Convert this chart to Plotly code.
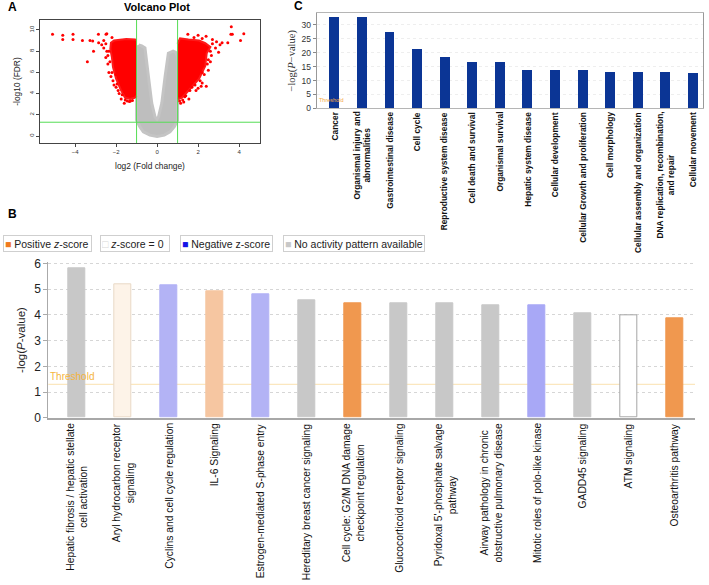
import plotly.graph_objects as go

W, H = 709, 585

# ---------------- Panel A: volcano plot ----------------
fc_cutoff = 1.0     # |log2 fold change| cut-off
fdr_cutoff = 1.3    # -log10(FDR) cut-off
a_xticks = [-4, -2, 0, 2, 4]
a_yticks = [0, 2, 4, 6, 8, 10]

# outline of the dense grey (non-significant) cloud
grey_cloud_x = [-1.0, -1.0, -0.85, -0.67, -0.35, 0.0, 0.35, 0.63, 0.85, 1.0, 1.0, 0.9,
                0.78, 0.55, 0.39, 0.23, 0.07, 0.0, -0.1, -0.26, -0.42, -0.59, -0.75, -0.9]
grey_cloud_y = [8.5, 1.5, 0.9, 0.4, 0.08, -0.05, 0.08, 0.4, 0.9, 1.5, 7.5, 7.9,
                8.0, 7.8, 5.6, 3.1, 1.8, 1.6, 1.8, 3.1, 5.6, 8.3, 8.5, 8.6]
# outline of the dense red (significant, down) cloud
red_left_x = [-1.0, -1.07, -1.5, -1.8, -2.1, -2.25, -2.28, -2.2, -2.15, -2.0, -1.78,
              -1.56, -1.32, -1.1, -1.0]
red_left_y = [9.0, 9.1, 9.15, 9.1, 9.0, 8.8, 8.2, 7.4, 6.5, 5.4, 4.4, 3.6, 3.5, 3.6, 3.8]
# outline of the dense red (significant, up) cloud
red_right_x = [1.0, 1.12, 1.53, 2.05, 2.35, 2.6, 2.42, 2.35, 2.05, 1.75, 1.45, 1.2, 1.05, 1.0]
red_right_y = [8.7, 9.2, 9.1, 9.0, 8.75, 8.4, 7.8, 6.6, 5.4, 4.7, 4.1, 3.6, 3.5, 3.6]
# individual significant genes outside the dense clouds
red_out_x = [-5.1, -4.6, -4.6, -4.1, -4.1, -3.64, -3.4, -3.27, -3.14, -3.1, -2.86, -2.49,
             -2.45, -2.85, -2.7, -2.6, -2.5, -2.45, -2.4, -2.35, -2.25, -2.1, -2.0, -1.85,
             -1.75, -1.6, -1.45, -2.6, -2.2, -2.35, -2.3, -2.2, -2.15, -1.95, -1.9, -1.7,
             -1.55, -1.35, -1.2, -2.5, -2.4, -2.0, -1.6, -1.3,
             3.62, 3.6, 3.67, 4.23, 4.07, 3.45, 3.17, 2.9, 3.07, 1.5, 2.39, 2.0, 2.7, 2.85,
             2.65, 2.6, 2.5, 2.3, 2.2, 2.0, 1.9, 2.15, 1.55, 1.3, 1.15, 2.6, 3.0, 2.25, 2.4,
             2.5, 2.45, 2.2, 2.1, 1.85, 1.6, 1.4, 1.25, 1.1, 1.8, 2.2, 2.7, 1.7, 1.35]
red_out_y = [9.6, 9.5, 9.1, 9.6, 9.1, 9.0, 7.0, 9.0, 8.95, 8.0, 9.6, 9.6,
             9.65, 8.8, 8.6, 8.3, 7.4, 8.0, 6.8, 6.0, 5.6, 4.8, 4.6, 4.0,
             3.5, 3.1, 3.3, 9.0, 9.3, 8.0, 7.0, 6.0, 5.2, 4.9, 4.3, 3.9,
             3.4, 3.25, 3.35, 8.7, 7.6, 5.8, 4.2, 3.3,
             10.3, 9.6, 9.6, 9.65, 9.0, 8.8, 8.8, 8.9, 8.6, 9.6, 9.4, 9.5, 9.1, 8.3,
             7.6, 7.0, 6.2, 5.8, 5.0, 4.5, 4.3, 4.7, 3.5, 3.2, 3.1, 8.0, 7.9, 6.6, 4.7,
             7.2, 6.8, 6.0, 5.2, 4.8, 4.3, 3.8, 3.4, 3.3, 9.3, 9.2, 8.7, 4.6, 3.7]

# ---------------- Panel C: disease & functions ----------------
c_labels = ["Cancer", "Organismal injury and<br>abnormalities", "Gastrointestinal disease",
            "Cell cycle", "Reproductive system disease", "Cell death and survival",
            "Organismal survival", "Hepatic system disease", "Cellular development",
            "Cellular Growth and proliferation", "Cell morphology",
            "Cellular assembly and organization",
            "DNA replication, recombination,<br>and repair", "Cellular movement"]
c_values = [32.7, 32.6, 27.3, 21.3, 18.3, 16.6, 16.4, 13.6, 13.6, 13.6, 13.1, 13.1, 13.1, 12.5]
c_ticks = [0, 5, 10, 15, 20, 25, 30]
c_threshold = 1.3

# ---------------- Panel B: canonical pathways ----------------
b_labels = ["Hepatic fibrosis / hepatic stellate<br>cell activation",
            "Aryl hydrocarbon receptor<br>signaling",
            "Cyclins and cell cycle regulation", "IL-6 Signaling",
            "Estrogen-mediated S-phase entry", "Hereditary breast cancer signaling",
            "Cell cycle: G2/M DNA damage<br>checkpoint regulation",
            "Glucocorticoid receptor signaling",
            "Pyridoxal 5'-phosphate salvage<br>pathway",
            "Airway pathology in chronic<br>obstructive pulmonary disease",
            "Mitotic roles of polo-like kinase", "GADD45 signaling", "ATM signaling",
            "Osteoarthritis pathway"]
b_values = [5.81, 5.21, 5.17, 4.91, 4.80, 4.57, 4.47, 4.47, 4.44, 4.38, 4.36, 4.05, 4.00, 3.88]
b_pattern = ["none", "pos_low", "neg", "pos_mid", "neg", "none", "pos_high", "none",
             "none", "none", "neg_strong", "none", "zero", "pos_high"]
b_ticks = [0, 1, 2, 3, 4, 5, 6]
b_threshold = 1.3
legend_labels = ["Positive <i>z</i>-score", "<i>z</i>-score = 0", "Negative z-score",
                 "No activity pattern available"]

# ---------------- styles ----------------
fill_map = {"none": "#c8c8c8", "pos_low": "#fdf3e8", "pos_mid": "#f6c6a1",
            "pos_high": "#f0984f", "neg": "#b3b3f5", "neg_strong": "#a8a8f6",
            "zero": "#ffffff"}
edge_map = {"none": "#c8c8c8", "pos_low": "#e9d9c6", "pos_mid": "#f6c6a1",
            "pos_high": "#f0984f", "neg": "#b3b3f5", "neg_strong": "#a8a8f6",
            "zero": "#a5a5a5"}
legend_square = ["#f07a1e", "#d8d8d8", "#1414e6", "#c8c8c8"]
legend_glyph = ["■", "□", "■", "■"]
legend_left = [3, 100, 180, 283]
legend_width = [85, 66, 89, 138]

SANS = "Liberation Sans, Arial, sans-serif"
SERIF = "Liberation Serif, Times New Roman, serif"

fig = go.Figure()

# Panel A traces
fig.add_trace(go.Scatter(x=grey_cloud_x, y=grey_cloud_y, mode="lines", fill="toself",
                         fillcolor="#bebebe", line=dict(color="#c4c4c4", width=3),
                         xaxis="x", yaxis="y", hoverinfo="skip", showlegend=False))
for xs, ys in [(red_left_x, red_left_y), (red_right_x, red_right_y)]:
    fig.add_trace(go.Scatter(x=xs, y=ys, mode="lines", fill="toself",
                             fillcolor="#ff0000", line=dict(color="#ff1a1a", width=2),
                             xaxis="x", yaxis="y", hoverinfo="skip", showlegend=False))
fig.add_trace(go.Scatter(x=red_out_x, y=red_out_y, mode="markers",
                         marker=dict(color="#ff0000", size=3), xaxis="x", yaxis="y",
                         showlegend=False))

# Panel C bars
fig.add_trace(go.Bar(x=c_labels, y=c_values, width=0.36,
                     marker=dict(color="#0b3595", line=dict(width=0)),
                     xaxis="x2", yaxis="y2", showlegend=False))

# Panel B bars
fig.add_trace(go.Bar(x=b_labels, y=b_values, width=0.36,
                     marker=dict(color=[fill_map[p] for p in b_pattern],
                                 line=dict(color=[edge_map[p] for p in b_pattern], width=1)),
                     xaxis="x3", yaxis="y3", showlegend=False))

shapes = []
# volcano cut-off lines
for v in (-fc_cutoff, fc_cutoff):
    shapes.append(dict(type="line", xref="x", yref="y domain", x0=v, x1=v, y0=0, y1=1,
                       line=dict(color="#55dd55", width=1), layer="above"))
shapes.append(dict(type="line", xref="x domain", yref="y", x0=0, x1=1, y0=fdr_cutoff,
                   y1=fdr_cutoff, line=dict(color="#55dd55", width=1), layer="above"))
# panel B threshold
shapes.append(dict(type="line", xref="x3 domain", yref="y3", x0=0, x1=1, y0=b_threshold,
                   y1=b_threshold, line=dict(color="#fbe2b0", width=1), layer="below"))

ann = []
def px(x):
    return x / W
def py(y):
    return 1 - y / H

ann.append(dict(text="<b>A</b>", x=px(6), y=py(7), xref="paper", yref="paper",
                xanchor="left", yanchor="middle", showarrow=False,
                font=dict(family=SANS, size=12, color="#000")))
ann.append(dict(text="<b>Volcano Plot</b>", x=px(157), y=py(7), xref="paper", yref="paper",
                xanchor="center", yanchor="middle", showarrow=False,
                font=dict(family=SANS, size=11, color="#000")))
ann.append(dict(text="<b>C</b>", x=px(292), y=py(6), xref="paper", yref="paper",
                xanchor="left", yanchor="middle", showarrow=False,
                font=dict(family=SANS, size=12, color="#000")))
ann.append(dict(text="<b>B</b>", x=px(6), y=py(214), xref="paper", yref="paper",
                xanchor="left", yanchor="middle", showarrow=False,
                font=dict(family=SANS, size=12, color="#000")))

# Panel C category labels
for lab in c_labels:
    ann.append(dict(text=lab, x=lab, y=py(110), xref="x2", yref="paper", textangle=-90,
                    xanchor="center", yanchor="top", align="center", showarrow=False,
                    font=dict(family=SANS, size=8.4, color="#111", weight="bold")))
ann.append(dict(text="Threshold", x=0, y=c_threshold, xref="x2 domain", yref="y2",
                xanchor="left", yanchor="bottom", showarrow=False,
                font=dict(family=SANS, size=5.5, color="#f5a840")))

# Panel B category labels
for lab in b_labels:
    ann.append(dict(text=lab, x=lab, y=py(421), xref="x3", yref="paper", textangle=-90,
                    xanchor="center", yanchor="top", align="center", showarrow=False,
                    font=dict(family=SANS, size=10.3, color="#111")))
ann.append(dict(text="Threshold", x=0, y=b_threshold, xref="x3 domain", yref="y3",
                xanchor="left", yanchor="bottom", showarrow=False,
                font=dict(family=SANS, size=10, color="#f5b540")))

# Panel B legend
for lab, col, gl, left, wd in zip(legend_labels, legend_square, legend_glyph, legend_left, legend_width):
    ann.append(dict(text=f'<span style="color:{col}">{gl}</span> {lab}', x=px(left), y=py(243.5),
                    xref="paper", yref="paper", xanchor="left", yanchor="middle",
                    align="left", width=wd, height=13, showarrow=False,
                    bordercolor="#cfcfcf", borderwidth=1, borderpad=1,
                    font=dict(family=SANS, size=10.5, color="#222")))

fig.update_layout(
    width=W, height=H, margin=dict(l=0, r=0, t=0, b=0, autoexpand=False),
    paper_bgcolor="white", plot_bgcolor="white", bargap=0,
    shapes=shapes, annotations=ann, showlegend=False,
    xaxis=dict(domain=[px(40), px(260)], range=[-5.71, 5.02], anchor="y", automargin=False,
               tickvals=a_xticks, ticks="outside", ticklen=3, tickcolor="#444",
               showline=True, linecolor="#444", linewidth=1, mirror=True,
               showgrid=False, zeroline=False,
               tickfont=dict(family=SANS, size=6, color="#333"),
               title=dict(text="log2 (Fold change)", standoff=8,
                          font=dict(family=SANS, size=8.4, color="#222"))),
    yaxis=dict(domain=[py(143), py(20)], range=[-0.66, 10.94], anchor="x", automargin=False,
               tickvals=a_yticks, ticks="outside", ticklen=3, tickcolor="#444",
               tickangle=-90,
               showline=True, linecolor="#444", linewidth=1, mirror=True,
               showgrid=False, zeroline=False,
               tickfont=dict(family=SANS, size=6, color="#333"),
               title=dict(text="-log10 (FDR)", standoff=6,
                          font=dict(family=SANS, size=8.4, color="#222"))),
    xaxis2=dict(domain=[px(316.7), px(703)], range=[-0.627, 13.373], anchor="y2",
                automargin=False,
                type="category", showticklabels=False, ticks="",
                showline=True, linecolor="#b5b5b5", linewidth=1, mirror=True,
                showgrid=False, zeroline=False),
    yaxis2=dict(domain=[py(108.3), py(13.3)], range=[0, 34.2], anchor="x2", automargin=False,
                tickvals=c_ticks, ticks="outside", ticklen=3, tickcolor="#888",
                showline=True, linecolor="#999", linewidth=1, mirror=True,
                showgrid=True, gridcolor="#eeeeee", griddash="dot", zeroline=False,
                tickfont=dict(family=SANS, size=8.5, color="#333"),
                title=dict(text="−log(<i>P</i>−value)", standoff=3,
                           font=dict(family=SERIF, size=10.5, color="#333"))),
    xaxis3=dict(domain=[px(48.3), px(695)], range=[-0.617, 13.435], anchor="y3",
                automargin=False,
                type="category", showticklabels=False, ticks="",
                showline=True, linecolor="#a8a8a8", linewidth=2,
                showgrid=False, zeroline=False),
    yaxis3=dict(domain=[py(417.7), py(262.3)], range=[0, 6.05], anchor="x3", automargin=False,
                tickvals=b_ticks, ticks="outside", ticklen=4, tickcolor="#aaa",
                showline=True, linecolor="#aaa", linewidth=1,
                showgrid=True, gridcolor="#d6d6d6", griddash="dot", zeroline=False,
                tickfont=dict(family=SANS, size=12, color="#222"),
                title=dict(text="-log(<i>P</i>-value)", standoff=6,
                           font=dict(family=SANS, size=11.5, color="#222"))),
)

fig.write_html("out.html", config={"displayModeBar": False},
               post_script="document.body.style.margin='0px';")
